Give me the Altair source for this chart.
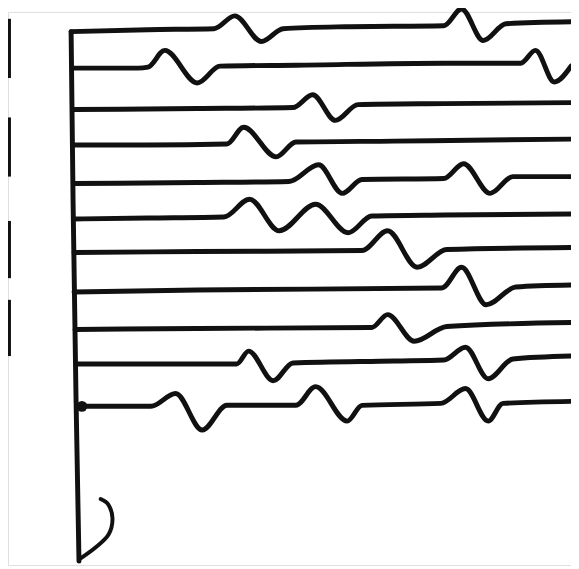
import altair as alt
import pandas as pd

# Traces (pixel-like coordinates, y grows downwards)
t1_x = [72, 150, 217, 238, 265, 287, 350, 450, 468, 490, 513, 579]
t1_y = [28, 26, 25, 12, 38, 25, 23, 22, 5, 37, 20, 18]
t2_x = [75, 140, 150, 167, 200, 223, 300, 450, 528, 543, 562, 579]
t2_y = [65, 65, 64, 47, 80, 63, 62, 60, 60, 47, 79, 63]
t3_x = [75, 200, 297, 317, 340, 363, 450, 579]
t3_y = [107, 106, 105, 92, 118, 102, 101, 100]
t4_x = [75, 150, 230, 247, 280, 300, 400, 579]
t4_y = [143, 143, 142, 125, 155, 140, 139, 137]
t5_x = [75, 200, 293, 323, 347, 367, 450, 470, 497, 520, 579]
t5_y = [182, 181, 180, 163, 192, 178, 177, 162, 192, 175, 175]
t6_x = [75, 150, 227, 253, 283, 320, 353, 377, 450, 579]
t6_y = [218, 217, 216, 198, 230, 203, 232, 215, 214, 213]
t7_x = [75, 200, 367, 393, 423, 453, 579]
t7_y = [252, 251, 250, 230, 267, 249, 247]
t8_x = [75, 200, 448, 468, 493, 523, 579]
t8_y = [292, 290, 288, 267, 305, 287, 285]
t9_x = [76, 200, 377, 393, 420, 453, 579]
t9_y = [330, 329, 328, 315, 342, 327, 323]
t10_x = [78, 180, 240, 252, 277, 297, 400, 450, 472, 495, 520, 579]
t10_y = [365, 365, 365, 352, 382, 364, 362, 361, 348, 380, 360, 357]
t11_x = [80, 153, 178, 205, 230, 300, 320, 352, 367, 447, 472, 495, 510, 579]
t11_y = [408, 408, 395, 432, 407, 407, 388, 423, 407, 405, 390, 423, 405, 403]

axis_x = [72, 74, 77, 80]
axis_y = [28, 200, 400, 565]
hook_x = [102, 110, 114, 110, 97, 82]
hook_y = [502, 508, 522, 538, 551, 562]
dot_x = [83]
dot_y = [408]
bar_y1 = [15, 115, 220, 300]
bar_y2 = [75, 175, 278, 357]

traces = [(t1_x, t1_y), (t2_x, t2_y), (t3_x, t3_y), (t4_x, t4_y), (t5_x, t5_y),
          (t6_x, t6_y), (t7_x, t7_y), (t8_x, t8_y), (t9_x, t9_y), (t10_x, t10_y),
          (t11_x, t11_y)]
rows = []
for i, (xs, ys) in enumerate(traces):
    for j, (xv, yv) in enumerate(zip(xs, ys)):
        rows.append({"trace": i + 1, "order": j, "x": xv, "y": yv})
df_tr = pd.DataFrame(rows)
df_axis = pd.DataFrame({"x": axis_x, "y": axis_y, "order": range(len(axis_x))})
df_hook = pd.DataFrame({"x": hook_x, "y": hook_y, "order": range(len(hook_x))})
df_dot = pd.DataFrame({"x": dot_x, "y": dot_y})
df_bar = pd.DataFrame({"x": [9.5] * 4, "y": bar_y1, "y2": bar_y2})

xs = alt.Scale(domain=[8, 579], nice=False, zero=False)
ys = alt.Scale(domain=[8, 569], nice=False, zero=False, reverse=True)
X = alt.X("x:Q", scale=xs, axis=None)
Y = alt.Y("y:Q", scale=ys, axis=None)
ink = "#111111"

lines = alt.Chart(df_tr).mark_line(
    interpolate="monotone", strokeWidth=5, color=ink, strokeCap="round", strokeJoin="round"
).encode(x=X, y=Y, detail="trace:N", order="order:Q")

axis_line = alt.Chart(df_axis).mark_line(
    strokeWidth=5, color=ink, strokeCap="round"
).encode(x=X, y=Y, order="order:Q")

hook = alt.Chart(df_hook).mark_line(
    interpolate="cardinal", strokeWidth=4, color=ink, strokeCap="round"
).encode(x=X, y=Y, order="order:Q")

dot = alt.Chart(df_dot).mark_circle(size=120, color=ink, opacity=1).encode(x=X, y=Y)

bars = alt.Chart(df_bar).mark_rule(strokeWidth=3, color=ink).encode(
    x=X, y=Y, y2="y2:Q"
)

chart = alt.layer(bars, axis_line, lines, hook, dot).properties(
    width=571, height=561, padding=0, autosize=alt.AutoSizeParams(type="none")
).configure_view(stroke="transparent", strokeWidth=0).configure(background="white")

chart.save("out.html", embed_options={"renderer": "svg", "actions": False})
